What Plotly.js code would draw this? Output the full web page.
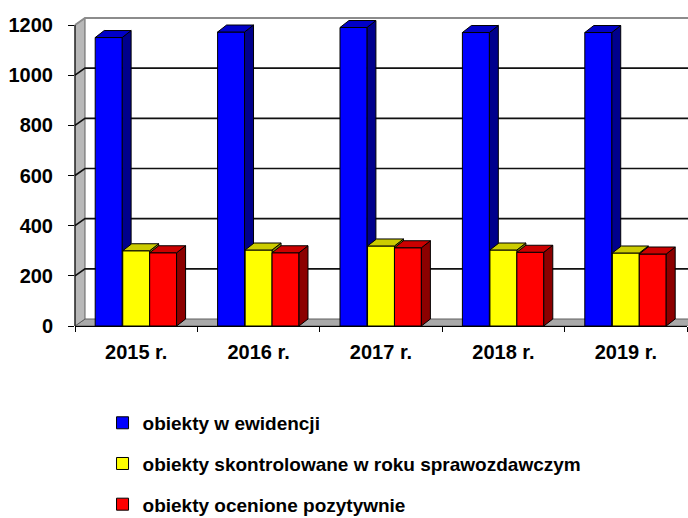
<!DOCTYPE html>
<html>
<head>
<meta charset="utf-8">
<script src="https://cdn.plot.ly/plotly-3.0.1.min.js"></script>
<style>html,body{margin:0;padding:0;background:#fff;}#chart{width:688px;height:518px;}</style>
</head>
<body>
<div id="chart"></div>
<script>
// ---- data ----
const categories = ['2015 r.', '2016 r.', '2017 r.', '2018 r.', '2019 r.'];
const seriesNames = [
  'obiekty w ewidencji',
  'obiekty skontrolowane w roku sprawozdawczym',
  'obiekty ocenione pozytywnie'
];
const ewidencja = [1150, 1172, 1190, 1170, 1170];
const skontrolowane = [300, 303, 319, 303, 291];
const pozytywne = [292, 292, 312, 294, 287];
const yTicks = [0, 200, 400, 600, 800, 1000, 1200];

// ---- styles / geometry ----
const W = 688, H = 518;
const yMax = 1200;
const axisTopPx = 25, extraPx = 12;
const M = {l: 75, r: 1, t: axisTopPx - extraPx, b: 192, autoexpand: false};
const plotW = W - M.l - M.r;
const pxX = plotW / categories.length;          // pixels per category unit
const pxY = (H - axisTopPx - M.b) / yMax;        // pixels per value unit
const yRangeMax = yMax + extraPx / pxY;
const axisH = yMax * pxY;
const barW = 0.22;
const offsets = [-0.335, -0.11, 0.11];
const front = ['#0000FF', '#FFFF00', '#FF0000'];
const tops = ['#0000C8', '#CCCC00', '#CC0000'];
const sides = ['#00008C', '#8C8C00', '#8C0000'];
const sideLayer = ['below', 'below', 'above'];
const dX = 9, dY = 7;        // bar depth in px
const wX = 10, wY = 7;       // wall depth in px
const FONT = '"Liberation Sans", Arial, sans-serif';

const series = [ewidencja, skontrolowane, pozytywne];
const xIdx = categories.map((_, i) => i);

const traces = series.map((vals, s) => ({
  type: 'bar',
  name: seriesNames[s],
  x: xIdx,
  y: vals,
  width: barW,
  offset: offsets[s],
  legendgroup: 'g' + s,
  marker: {color: front[s], line: {color: '#000', width: 1}},
  hoverinfo: 'skip'
}));

const shapes = [];
const paperPx = {type: 'path', xref: 'paper', yref: 'y', xsizemode: 'pixel', ysizemode: 'pixel', xanchor: 0};
// floor
shapes.push(Object.assign({}, paperPx, {layer: 'below', yanchor: 0,
  path: `M0,0 L${plotW + 2},0 L${plotW + 2 + wX},${wY} L${wX},${wY} Z`,
  fillcolor: '#a9a9a9', line: {color: '#606060', width: 1}}));
// left wall
shapes.push(Object.assign({}, paperPx, {layer: 'below', yanchor: 0,
  path: `M0,0 L0,${axisH} L${wX},${axisH + wY} L${wX},${wY} Z`,
  fillcolor: '#b8b8b8', line: {color: '#606060', width: 1}}));
// gridlines on back wall (with slanted part on left wall)
yTicks.filter(v => v > 0).forEach(v => {
  const top = v === yMax;
  shapes.push(Object.assign({}, paperPx, {layer: 'below', yanchor: v,
    path: `M0,0 L${wX},${wY} L${plotW + 2},${wY}`,
    line: {color: top ? '#8c8c8c' : '#111', width: top ? 2 : 1.6}}));
});
// front-left edge (value axis line)
shapes.push(Object.assign({}, paperPx, {layer: 'above', yanchor: 0,
  path: `M0,0 L0,${axisH}`, line: {color: '#000', width: 1}}));
// 3D faces of bars
series.forEach((vals, s) => {
  vals.forEach((v, j) => {
    const xr = j + offsets[s] + barW;
    const bp = barW * pxX;
    const hp = v * pxY;
    shapes.push({type: 'path', layer: sideLayer[s], xref: 'x', yref: 'y', xsizemode: 'pixel', ysizemode: 'pixel',
      xanchor: xr, yanchor: v,
      path: `M0,0 L${dX},${dY} L${dX},${dY - hp} L0,${-hp} Z`,
      fillcolor: sides[s], line: {color: '#000', width: 1}});
    shapes.push({type: 'path', layer: 'above', xref: 'x', yref: 'y', xsizemode: 'pixel', ysizemode: 'pixel',
      xanchor: xr, yanchor: v,
      path: `M0,0 L${-bp},0 L${-bp + dX},${dY} L${dX},${dY} Z`,
      fillcolor: tops[s], line: {color: '#000', width: 1}});
  });
});

const layout = {
  width: W, height: H,
  margin: M,
  paper_bgcolor: '#fff',
  plot_bgcolor: 'rgba(0,0,0,0)',
  barmode: 'overlay',
  showlegend: true,
  font: {family: FONT, color: '#000'},
  xaxis: {
    range: [-0.5, categories.length - 0.5],
    tickvals: xIdx, ticktext: categories,
    ticks: '', showgrid: false, zeroline: false,
    showline: true, linecolor: '#000', linewidth: 1,
    tickfont: {family: FONT, size: 20, weight: 'bold', color: '#000'},
    ticklabelstandoff: 8,
    fixedrange: true
  },
  xaxis2: {
    overlaying: 'x', anchor: 'y', side: 'bottom',
    range: [-0.5, categories.length - 0.5],
    tickvals: [-0.5, 0.5, 1.5, 2.5, 3.5, 4.5],
    ticks: 'outside', ticklen: 5, tickcolor: '#000', tickwidth: 1,
    showticklabels: false, showgrid: false, zeroline: false, showline: false,
    fixedrange: true
  },
  yaxis: {
    range: [0, yRangeMax],
    tickvals: yTicks,
    ticks: 'outside', ticklen: 6, tickcolor: '#000', tickwidth: 1,
    showgrid: false, zeroline: false, showline: false,
    tickfont: {family: FONT, size: 20, weight: 'bold', color: '#000'},
    ticklabelstandoff: 11,
    fixedrange: true
  },
  legend: {
    x: 0.045, xanchor: 'left',
    y: -0.249, yanchor: 'top',
    traceorder: 'grouped',
    tracegroupgap: 13,
    maxheight: 2000,
    bgcolor: 'rgba(0,0,0,0)',
    font: {family: FONT, size: 19, weight: 'bold', color: '#000'}
  },
  shapes: shapes
};

// invisible trace to activate xaxis2 boundary ticks
traces.push({type: 'scatter', x: [0], y: [0], xaxis: 'x2', yaxis: 'y', mode: 'markers',
  marker: {opacity: 0}, showlegend: false, hoverinfo: 'skip'});

Plotly.newPlot('chart', traces, layout, {displayModeBar: false, staticPlot: true});
</script>
</body>
</html>
